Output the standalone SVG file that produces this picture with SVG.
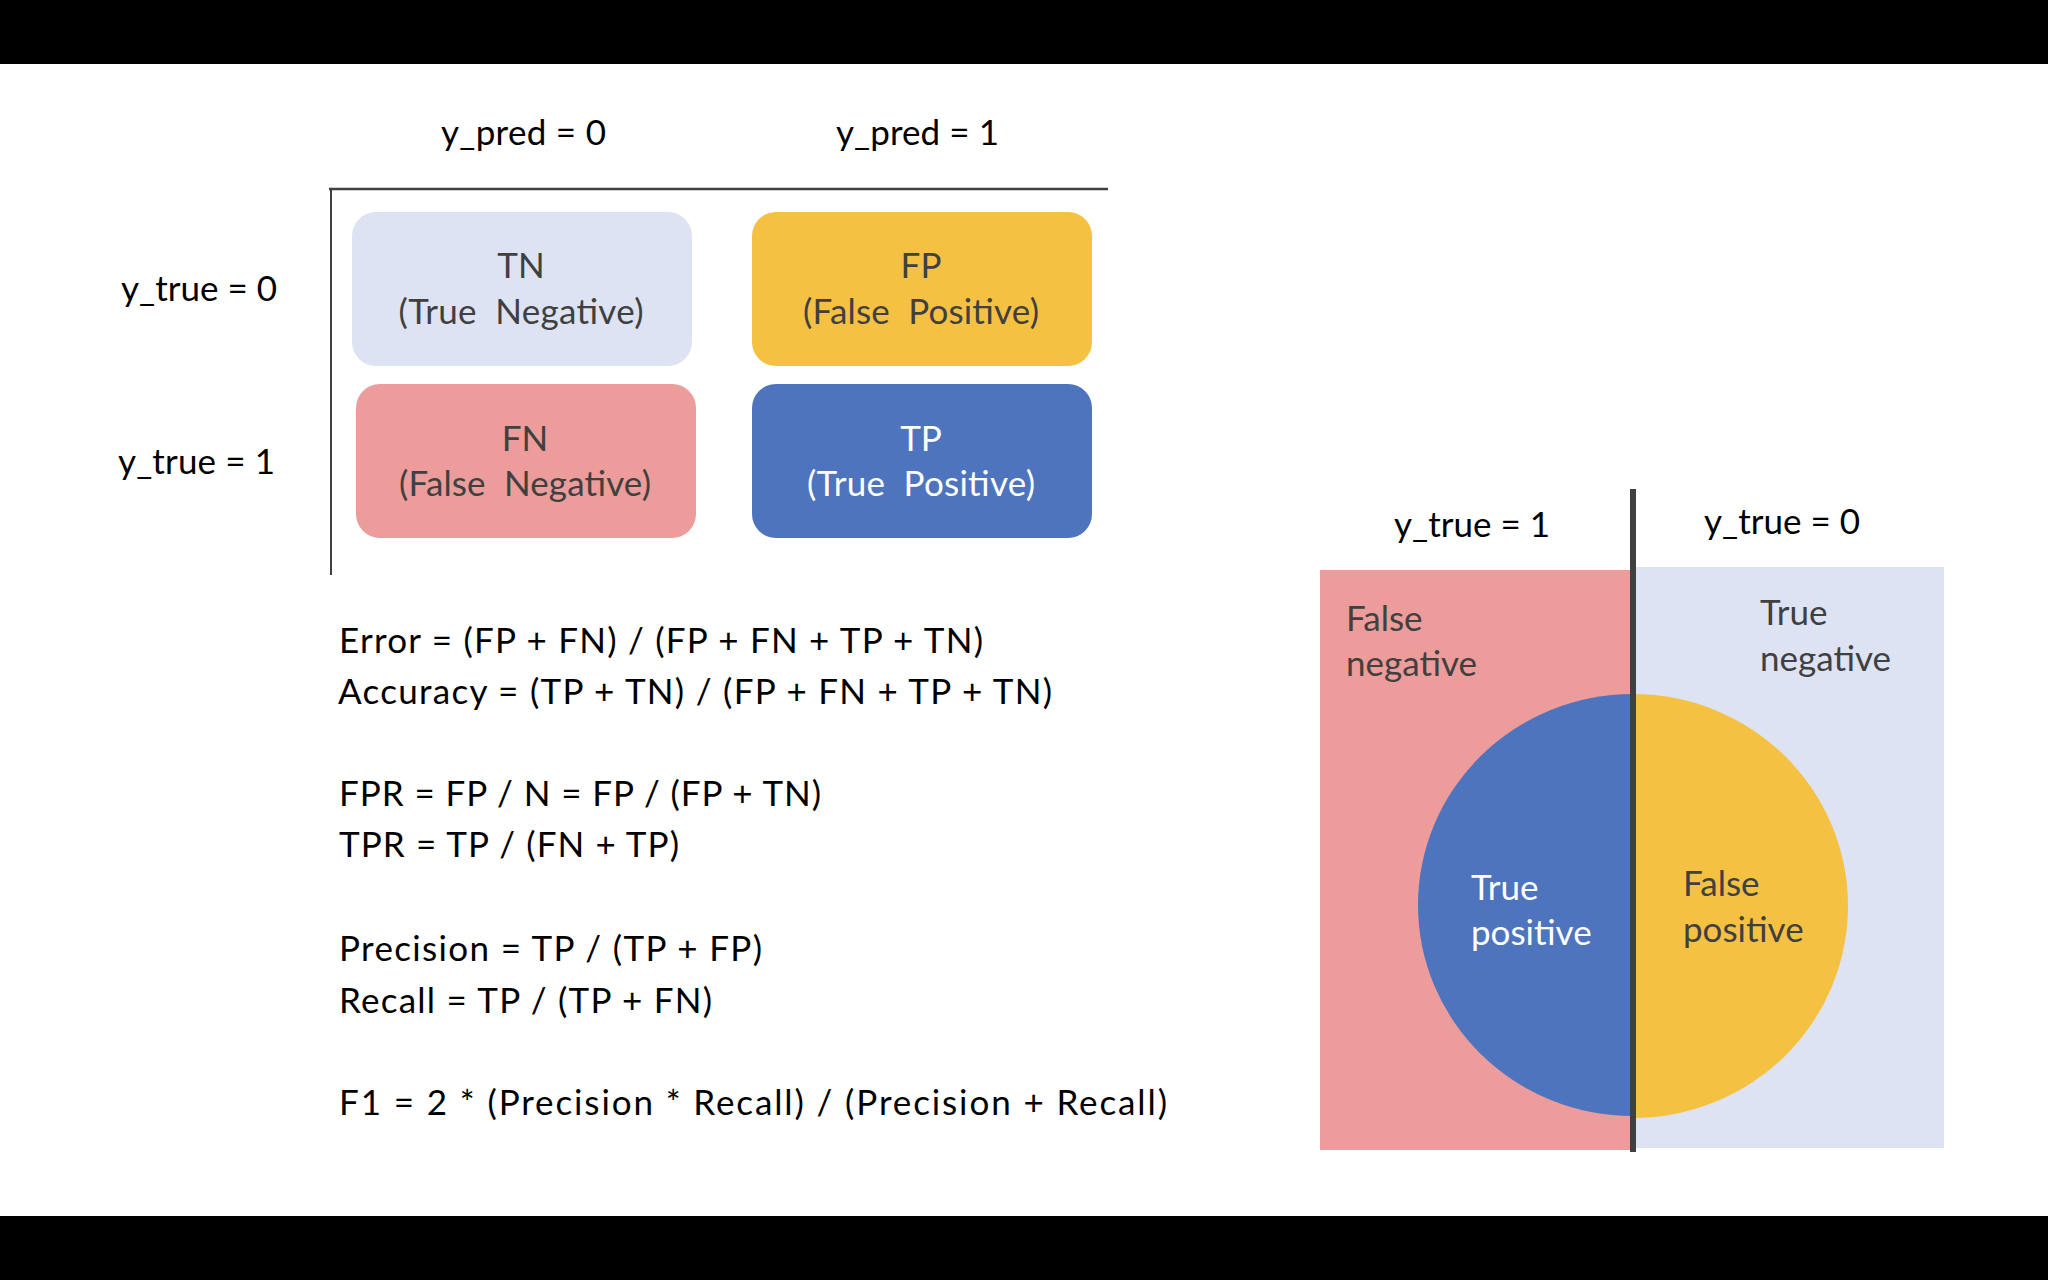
<svg xmlns="http://www.w3.org/2000/svg" width="2048" height="1280" viewBox="0 0 2048 1280">
<style>
text{font-family:Lato,"Open Sans","Liberation Sans",sans-serif;font-size:35px;white-space:pre}
.k{fill:#000000}
.g{fill:#404040}
.w{fill:#FFFFFF}
.c{text-anchor:middle}
.ln{stroke:#404040;fill:none}
</style>
<rect x="0" y="0" width="2048" height="1280" fill="#FFFFFF"/>
<rect x="0" y="0" width="2048" height="64" fill="#000000"/>
<rect x="0" y="1216" width="2048" height="64" fill="#000000"/>

<g id="headers">
<text class="k" x="441" y="145" textLength="165">y_pred = 0</text>
<text class="k" x="836" y="145" textLength="163">y_pred = 1</text>
<text class="k" x="121" y="301" textLength="156">y_true = 0</text>
<text class="k" x="118" y="474" textLength="157">y_true = 1</text>
</g>

<g id="grid-lines">
<line class="ln" x1="329" y1="189" x2="1108" y2="189" stroke-width="2.5"/>
<line class="ln" x1="331" y1="188" x2="331" y2="575" stroke-width="2"/>
</g>

<g id="node-TN">
<rect x="352" y="212" width="340" height="154" rx="24" fill="#DDE3F2"/>
<text class="g c" x="521" y="278">TN</text>
<text class="g c" x="521" y="324" textLength="245">(True  Negative)</text>
</g>
<g id="node-FP">
<rect x="752" y="212" width="340" height="154" rx="24" fill="#F5C143"/>
<text class="g c" x="921" y="278">FP</text>
<text class="g c" x="921" y="324" textLength="236">(False  Positive)</text>
</g>
<g id="node-FN">
<rect x="356" y="384" width="340" height="154" rx="24" fill="#EB9C9B"/>
<text class="g c" x="525" y="451">FN</text>
<text class="g c" x="525" y="496" textLength="252">(False  Negative)</text>
</g>
<g id="node-TP">
<rect x="752" y="384" width="340" height="154" rx="24" fill="#4E74BE"/>
<text class="w c" x="921" y="451">TP</text>
<text class="w c" x="921" y="496" textLength="228">(True  Positive)</text>
</g>

<g id="formulas">
<text class="k" x="339" y="653" textLength="644">Error = (FP + FN) / (FP + FN + TP + TN)</text>
<text class="k" x="338" y="704" textLength="714">Accuracy = (TP + TN) / (FP + FN + TP + TN)</text>
<text class="k" x="339" y="806" textLength="482">FPR = FP / N = FP / (FP + TN)</text>
<text class="k" x="339" y="857" textLength="340">TPR = TP / (FN + TP)</text>
<text class="k" x="339" y="961" textLength="423">Precision = TP / (TP + FP)</text>
<text class="k" x="339" y="1013" textLength="373">Recall = TP / (TP + FN)</text>
<text class="k" x="339" y="1115" textLength="828">F1 = 2 * (Precision * Recall) / (Precision + Recall)</text>
</g>

<g id="venn">
<rect id="area-negative-true" x="1633" y="567" width="311" height="581" fill="#DDE3F2"/>
<rect id="area-positive-true" x="1320" y="570" width="313" height="580" fill="#EB9C9B"/>
<path id="half-TP" d="M1633,694 A215,211 0 0 0 1633,1116 Z" fill="#4E74BE"/>
<path id="half-FP" d="M1633,694 A215,212 0 0 1 1633,1118 Z" fill="#F5C143"/>
<line class="ln" x1="1633" y1="489" x2="1633" y2="1152" stroke-width="6"/>
<text class="k" x="1394" y="537" textLength="156">y_true = 1</text>
<text class="k" x="1704" y="534" textLength="156">y_true = 0</text>
<text class="g" x="1346" y="631">False</text>
<text class="g" x="1346" y="676">negative</text>
<text class="g" x="1760" y="625">True</text>
<text class="g" x="1760" y="671">negative</text>
<text class="w" x="1471" y="900">True</text>
<text class="w" x="1471" y="945">positive</text>
<text class="g" x="1683" y="896">False</text>
<text class="g" x="1683" y="942">positive</text>
</g>
</svg>
